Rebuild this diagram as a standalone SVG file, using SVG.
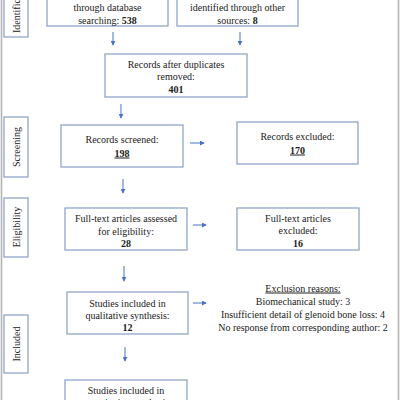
<svg xmlns="http://www.w3.org/2000/svg" width="400" height="400" viewBox="0 0 400 400">
<defs>
<style>
.box{fill:#fff;stroke:#8fa6c9;stroke-width:1.3}
.side{fill:#fff;stroke:#8fa6c9;stroke-width:1.3}
text{font-family:"Liberation Serif","Times New Roman",serif;font-size:10px;fill:#222;text-anchor:middle}
.b{font-weight:bold}
.u{text-decoration:underline}
.conn line{stroke:#4a74bd;stroke-width:1;marker-end:url(#ah)}
.edge{stroke:#b4b4b4;stroke-width:1.6}
</style>
<marker id="ah" viewBox="0 0 6 6" refX="5" refY="3" markerWidth="5" markerHeight="5" markerUnits="userSpaceOnUse" orient="auto">
<path d="M0,0 L6,3 L0,6 z" fill="#4a74bd"/>
</marker>
</defs>
<rect width="400" height="400" fill="#fff"/>
<line class="edge" x1="1.5" y1="0" x2="1.5" y2="400"/>
<line class="edge" x1="398.5" y1="0" x2="398.5" y2="400"/>

<g id="label-identification">
<rect class="side" x="4" y="-40" width="24" height="77"/>
<text transform="translate(16,33) rotate(-90)" dy="3.5" style="text-anchor:start">Identification</text>
</g>
<g id="label-screening">
<rect class="side" x="4" y="117" width="24" height="60"/>
<text transform="translate(16,147) rotate(-90)" dy="3.5">Screening</text>
</g>
<g id="label-eligibility">
<rect class="side" x="4" y="198" width="24" height="59"/>
<text transform="translate(16,227) rotate(-90)" dy="3.5">Eligibility</text>
</g>
<g id="label-included">
<rect class="side" x="4" y="315" width="24" height="58"/>
<text transform="translate(16,344) rotate(-90)" dy="3.5">Included</text>
</g>

<g id="n-database">
<rect class="box" x="47" y="-30" width="121" height="56"/>
<text x="107.5" y="10.5">through database</text>
<text x="107.5" y="23.5">searching: <tspan class="b">538</tspan></text>
</g>
<g id="n-other">
<rect class="box" x="177" y="-30" width="121" height="56"/>
<text x="237.5" y="10.5">identified through other</text>
<text x="237.5" y="23.5">sources: <tspan class="b">8</tspan></text>
</g>
<g id="n-duplicates">
<rect class="box" x="105" y="54" width="142" height="43"/>
<text x="176" y="67.5">Records after duplicates</text>
<text x="176" y="80">removed:</text>
<text class="b" x="176" y="92.5">401</text>
</g>
<g id="n-screened">
<rect class="box" x="61" y="125" width="122" height="42"/>
<text x="122" y="143">Records screened:</text>
<text class="b u" x="122" y="156.5">198</text>
</g>
<g id="n-excluded">
<rect class="box" x="237" y="122" width="121" height="42"/>
<text x="297.5" y="140">Records excluded:</text>
<text class="b u" x="297.5" y="153.5">170</text>
</g>
<g id="n-fulltext">
<rect class="box" x="65" y="208" width="122" height="42"/>
<text x="126" y="222">Full-text articles assessed</text>
<text x="126" y="234.5">for eligibility:</text>
<text class="b" x="126" y="246.5">28</text>
</g>
<g id="n-ft-excluded">
<rect class="box" x="237" y="208" width="122" height="42"/>
<text x="298" y="221.5">Full-text articles</text>
<text x="298" y="234">excluded:</text>
<text class="b" x="298" y="246.5">16</text>
</g>
<g id="n-qualitative">
<rect class="box" x="67" y="292" width="121" height="42"/>
<text x="127.5" y="306.5">Studies included in</text>
<text x="127.5" y="318.5">qualitative synthesis:</text>
<text class="b" x="127.5" y="330.5">12</text>
</g>
<g id="n-reasons">
<text class="u" x="303" y="291.5">Exclusion reasons:</text>
<text x="303" y="305">Biomechanical study: 3</text>
<text x="303" y="317.5">Insufficient detail of glenoid bone loss: 4</text>
<text x="303" y="330.5">No response from corresponding author: 2</text>
</g>
<g id="n-quantitative">
<rect class="box" x="65" y="380" width="122" height="40"/>
<text x="126" y="393.5">Studies included in</text>
<text x="126" y="406">quantitative synthesis</text>
</g>

<g id="connectors" class="conn">
<line x1="113" y1="32" x2="113" y2="45"/>
<line x1="240" y1="32" x2="240" y2="45"/>
<line x1="121" y1="104" x2="121" y2="118"/>
<line x1="190" y1="143" x2="204" y2="143"/>
<line x1="123" y1="179" x2="123" y2="193"/>
<line x1="193" y1="225" x2="206" y2="225"/>
<line x1="124" y1="266" x2="124" y2="281"/>
<line x1="193" y1="303" x2="206" y2="303"/>
<line x1="125" y1="347" x2="125" y2="361"/>
</g>
</svg>
